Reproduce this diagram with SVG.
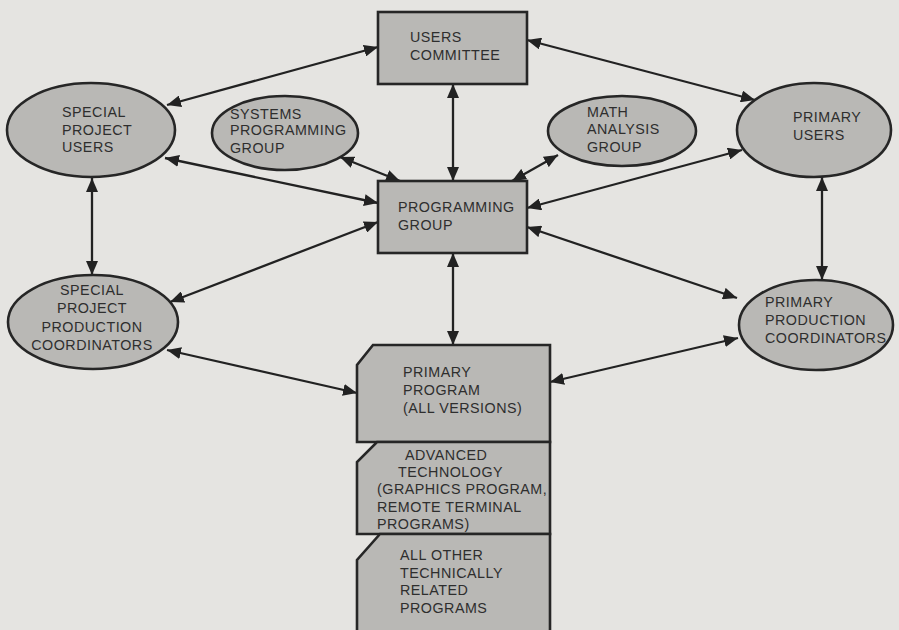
<svg xmlns="http://www.w3.org/2000/svg" width="899" height="630" viewBox="0 0 899 630">
<defs>
<marker id="ah" viewBox="0 0 14 12" refX="14" refY="6" markerWidth="14" markerHeight="12" markerUnits="userSpaceOnUse" orient="auto-start-reverse">
<path d="M0,0 L14,6 L0,12 z" fill="#222"/>
</marker>
<style>
.bg{fill:#e5e4e1}
.shape{fill:#b9b8b5;stroke:#262626;stroke-width:2.6}
.t{font-family:"Liberation Sans",Arial,sans-serif;font-size:14.3px;fill:#2e2e2e;letter-spacing:0.5px}
.c line{stroke:#222;stroke-width:2.3;marker-start:url(#ah);marker-end:url(#ah)}
</style>
</defs>
<rect class="bg" x="0" y="0" width="899" height="630"/>

<g id="connectors" class="c">
<line x1="378" y1="47" x2="167" y2="105"/>
<line x1="527" y1="40" x2="755" y2="100"/>
<line x1="453" y1="84" x2="453" y2="181"/>
<line x1="165" y1="158" x2="378" y2="203"/>
<line x1="340" y1="157" x2="400" y2="181"/>
<line x1="558" y1="155" x2="512" y2="181"/>
<line x1="742" y1="150" x2="527" y2="208"/>
<line x1="92" y1="178" x2="92" y2="275"/>
<line x1="822" y1="177" x2="822" y2="280"/>
<line x1="378" y1="222" x2="170" y2="302"/>
<line x1="527" y1="227" x2="737" y2="298"/>
<line x1="453" y1="253" x2="453" y2="345"/>
<line x1="167" y1="350" x2="357" y2="393"/>
<line x1="738" y1="338" x2="550" y2="382"/>
</g>

<g id="users-committee">
<rect class="shape" x="378" y="12" width="149" height="72"/>
<text class="t" x="410" y="42">USERS</text>
<text class="t" x="410" y="60">COMMITTEE</text>
</g>

<g id="programming-group">
<rect class="shape" x="378" y="181" width="149" height="72"/>
<text class="t" x="398" y="212">PROGRAMMING</text>
<text class="t" x="398" y="230">GROUP</text>
</g>

<g id="special-project-users">
<ellipse class="shape" cx="91" cy="130" rx="84" ry="47"/>
<text class="t" x="62" y="117">SPECIAL</text>
<text class="t" x="62" y="135">PROJECT</text>
<text class="t" x="62" y="152">USERS</text>
</g>

<g id="systems-programming-group">
<ellipse class="shape" cx="285" cy="133" rx="73" ry="37"/>
<text class="t" x="230" y="119">SYSTEMS</text>
<text class="t" x="230" y="135">PROGRAMMING</text>
<text class="t" x="230" y="153">GROUP</text>
</g>

<g id="math-analysis-group">
<ellipse class="shape" cx="622" cy="131" rx="74" ry="35"/>
<text class="t" x="587" y="117">MATH</text>
<text class="t" x="587" y="134">ANALYSIS</text>
<text class="t" x="587" y="152">GROUP</text>
</g>

<g id="primary-users">
<ellipse class="shape" cx="814" cy="130" rx="77" ry="47"/>
<text class="t" x="793" y="122">PRIMARY</text>
<text class="t" x="793" y="140">USERS</text>
</g>

<g id="special-project-production-coordinators">
<ellipse class="shape" cx="93" cy="322" rx="85" ry="47"/>
<text class="t" x="92" y="295" text-anchor="middle">SPECIAL</text>
<text class="t" x="92" y="313" text-anchor="middle">PROJECT</text>
<text class="t" x="92" y="332" text-anchor="middle">PRODUCTION</text>
<text class="t" x="92" y="350" text-anchor="middle">COORDINATORS</text>
</g>

<g id="primary-production-coordinators">
<ellipse class="shape" cx="816" cy="325" rx="77" ry="45"/>
<text class="t" x="765" y="307">PRIMARY</text>
<text class="t" x="765" y="325">PRODUCTION</text>
<text class="t" x="765" y="343">COORDINATORS</text>
</g>

<g id="primary-program">
<path class="shape" d="M373,345 L550,345 L550,442 L357,442 L357,365 Z"/>
<text class="t" x="403" y="377">PRIMARY</text>
<text class="t" x="403" y="395">PROGRAM</text>
<text class="t" x="403" y="413">(ALL VERSIONS)</text>
</g>

<g id="advanced-technology">
<path class="shape" d="M377,442 L550,442 L550,534 L357,534 L357,462 Z"/>
<text class="t" x="405" y="460">ADVANCED</text>
<text class="t" x="398" y="477">TECHNOLOGY</text>
<text class="t" x="377" y="494">(GRAPHICS PROGRAM,</text>
<text class="t" x="377" y="512">REMOTE TERMINAL</text>
<text class="t" x="377" y="529">PROGRAMS)</text>
</g>

<g id="all-other-programs">
<path class="shape" d="M380,534 L550,534 L550,640 L357,640 L357,560 Z"/>
<text class="t" x="400" y="560">ALL OTHER</text>
<text class="t" x="400" y="578">TECHNICALLY</text>
<text class="t" x="400" y="595">RELATED</text>
<text class="t" x="400" y="613">PROGRAMS</text>
</g>
</svg>
